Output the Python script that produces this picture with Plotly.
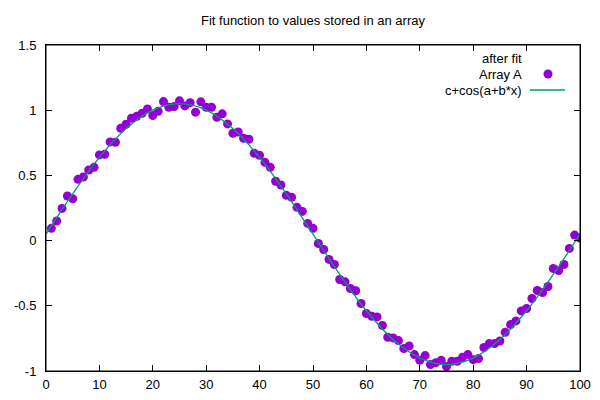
import plotly.graph_objects as go

# ---- data ----
x_points = list(range(1, 101))
array_a = [
    0.094, 0.150, 0.247, 0.342, 0.321, 0.470, 0.488, 0.541, 0.562, 0.657,
    0.662, 0.757, 0.754, 0.862, 0.892, 0.938, 0.954, 0.977, 1.010, 0.959,
    0.992, 1.066, 1.023, 1.028, 1.072, 1.033, 1.058, 0.985, 1.064, 1.023,
    1.023, 0.946, 0.972, 0.895, 0.823, 0.833, 0.785, 0.777, 0.670, 0.654,
    0.600, 0.562, 0.455, 0.426, 0.347, 0.332, 0.255, 0.224, 0.132, 0.094,
    -0.022, -0.068, -0.144, -0.183, -0.298, -0.316, -0.367, -0.385, -0.482, -0.559,
    -0.580, -0.585, -0.651, -0.741, -0.746, -0.767, -0.828, -0.808, -0.874, -0.918,
    -0.882, -0.951, -0.936, -0.918, -0.966, -0.925, -0.925, -0.895, -0.874, -0.913,
    -0.905, -0.820, -0.790, -0.790, -0.770, -0.703, -0.644, -0.616, -0.539, -0.521,
    -0.444, -0.383, -0.398, -0.352, -0.214, -0.229, -0.183, -0.060, 0.042, 0.019,
]

# fitted curve
fit_x = [0, 5, 10, 15, 20, 25, 30, 35, 40, 45, 50,
         55, 60, 65, 70, 75, 80, 85, 90, 95, 100]
fit_y = [0.05, 0.359, 0.638, 0.859, 1.001, 1.05, 1.001, 0.859, 0.638, 0.359, 0.05,
         -0.259, -0.538, -0.759, -0.901, -0.95, -0.901, -0.759, -0.538, -0.259, 0.05]

x_tickvals = [0, 10, 20, 30, 40, 50, 60, 70, 80, 90, 100]
x_ticktext = ["0", "10", "20", "30", "40", "50", "60", "70", "80", "90", "100"]
y_tickvals = [-1, -0.5, 0, 0.5, 1, 1.5]
y_ticktext = ["-1", "-0.5", "0", "0.5", "1", "1.5"]

title_text = "Fit function to values stored in an array"
legend_title = "after fit"
series_names = ["Array A", "c+cos(a+b*x)"]

PURPLE = "#9400D3"
GREEN = "#009E73"
FONT = "Liberation Sans, Arial, sans-serif"

fig = go.Figure()
fig.add_trace(go.Scatter(
    x=x_points, y=array_a, mode="markers", name=series_names[0],
    marker=dict(color=PURPLE, size=9, line=dict(width=0)),
    showlegend=False,
))
fig.add_trace(go.Scatter(
    x=fit_x, y=fit_y, mode="lines", name=series_names[1],
    line=dict(color=GREEN, width=1.3, shape="spline", smoothing=1.0),
    showlegend=False,
))

W, H = 600, 400
L, R, T, B = 46, 20, 45, 29


def to_paper_x(xp):
    return (xp - L) / (W - L - R)


def to_paper_y(yp):
    return 1 - (yp - T) / (H - T - B)


# gnuplot-style key: text right-justified, sample on the right
key_rows = [(legend_title, 59), (series_names[0], 74), (series_names[1], 90)]
ann = []
for txt, yp in key_rows:
    ann.append(dict(x=to_paper_x(524), y=to_paper_y(yp), xref="paper", yref="paper",
                    text=txt, showarrow=False, xanchor="right", yanchor="middle",
                    font=dict(family=FONT, size=13, color="black")))

shapes = [
    # plot border
    dict(type="rect", xref="paper", yref="paper", x0=0, x1=1, y0=0, y1=1,
         line=dict(color="black", width=1), fillcolor="rgba(0,0,0,0)", layer="above"),
    # key samples
    dict(type="circle", xref="paper", yref="paper",
         x0=to_paper_x(543.5), x1=to_paper_x(552.5),
         y0=to_paper_y(78.5), y1=to_paper_y(69.5),
         fillcolor=PURPLE, line=dict(width=0)),
    dict(type="line", xref="paper", yref="paper",
         x0=to_paper_x(530), x1=to_paper_x(565),
         y0=to_paper_y(90), y1=to_paper_y(90),
         line=dict(color=GREEN, width=1.3)),
]

axis_common = dict(
    showline=True, linecolor="black", linewidth=1, mirror="allticks",
    ticks="inside", ticklen=6, tickwidth=1, tickcolor="black",
    showgrid=False, zeroline=False, automargin=False,
    tickfont=dict(family=FONT, size=13, color="black"),
)

fig.update_layout(
    width=W, height=H,
    margin=dict(l=L, r=R, t=T, b=B, autoexpand=False),
    paper_bgcolor="white", plot_bgcolor="white",
    title=dict(text=title_text, x=0.5, xanchor="center", y=1 - 20 / H, yanchor="middle",
               xref="paper", font=dict(family=FONT, size=13, color="black")),
    xaxis=dict(range=[0, 100], tickvals=x_tickvals, ticktext=x_ticktext,
               ticklabelstandoff=1, **axis_common),
    yaxis=dict(range=[-1, 1.5], tickvals=y_tickvals, ticktext=y_ticktext,
               ticklabelstandoff=6, **axis_common),
    annotations=ann, shapes=shapes,
    showlegend=False,
)

fig.write_html("out.html", config={"displayModeBar": False},
               post_script="document.body.style.margin='0';")
